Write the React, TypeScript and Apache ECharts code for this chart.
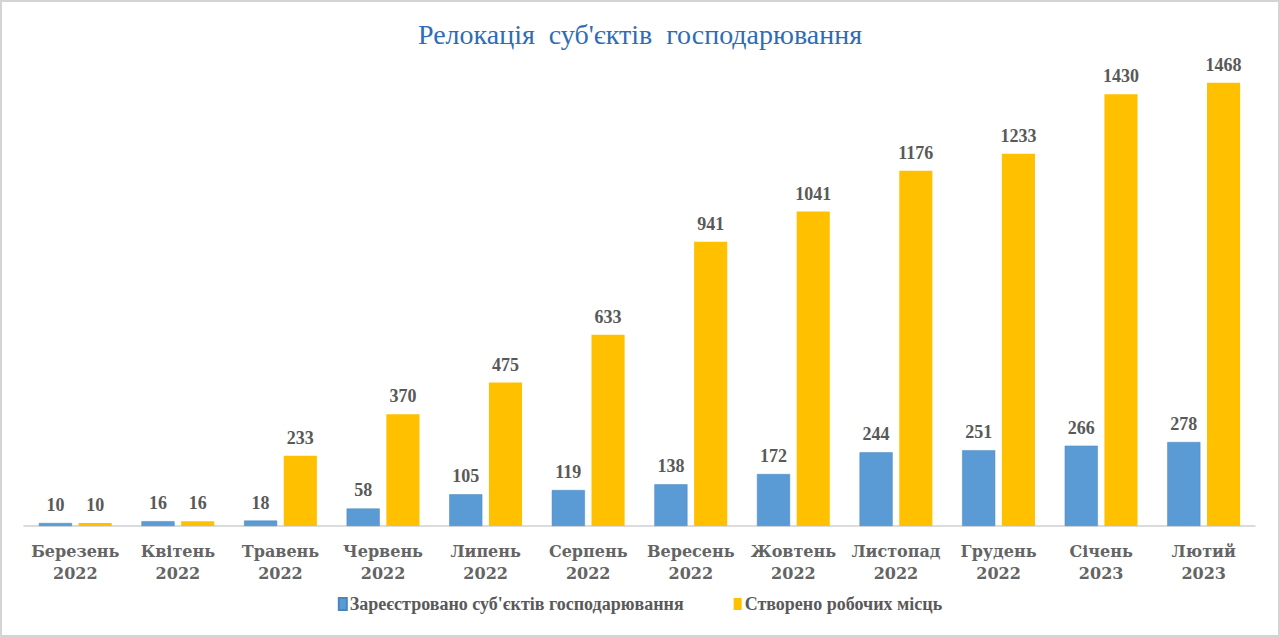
import React, { useEffect, useRef } from "react";
import * as echarts from "echarts";

const months = ["Березень", "Квітень", "Травень", "Червень", "Липень", "Серпень", "Вересень", "Жовтень", "Листопад", "Грудень", "Січень", "Лютий"];
const years = ["2022", "2022", "2022", "2022", "2022", "2022", "2022", "2022", "2022", "2022", "2023", "2023"];
const registered = [10, 16, 18, 58, 105, 119, 138, 172, 244, 251, 266, 278];
const jobs = [10, 16, 233, 370, 475, 633, 941, 1041, 1176, 1233, 1430, 1468];

const categories = months.map((m, i) => m + "\n" + years[i]);

export default function App() {
  const ref = useRef<HTMLDivElement>(null);
  useEffect(() => {
    document.body.style.margin = "0";
    const chart = echarts.init(ref.current!, null, { renderer: "svg" });
    const serif = "'Liberation Serif', 'DejaVu Serif', serif";
    const labelStyle = {
      show: true,
      position: "top" as const,
      distance: 9,
      fontFamily: serif,
      fontWeight: "bold" as const,
      fontSize: 18,
      color: "#595959",
    };
    chart.setOption({
      animation: false,
      backgroundColor: "#ffffff",
      title: {
        text: "Релокація  суб'єктів  господарювання",
        left: "center",
        top: 13,
        textStyle: { fontFamily: serif, fontSize: 28, fontWeight: "normal", color: "#2E6DB4" },
      },
      legend: {
        bottom: 17,
        left: "center",
        itemWidth: 8,
        itemHeight: 12,
        itemGap: 50,
        icon: "rect",
        textStyle: { fontFamily: serif, fontWeight: "bold", fontSize: 18, color: "#595959", padding: [0, 0, 0, -2] },
        data: ["Зареєстровано суб'єктів господарювання", "Створено робочих місць"],
      },
      grid: { left: 22, right: 23, top: 71, bottom: 109, containLabel: false },
      xAxis: {
        type: "category",
        data: categories,
        axisLine: { lineStyle: { color: "#D0D0D0", width: 1.5 } },
        axisTick: { show: false },
        axisLabel: {
          interval: 0,
          margin: 14,
          fontFamily: "'DejaVu Serif', serif",
          fontWeight: "bold",
          fontSize: 16,
          lineHeight: 22,
          color: "#646464",
        },
      },
      yAxis: {
        type: "value",
        min: 0,
        max: 1500,
        show: false,
        splitLine: { show: false },
      },
      series: [
        {
          name: "Зареєстровано суб'єктів господарювання",
          type: "bar",
          data: registered,
          barGap: "20%",
          barCategoryGap: "29%",
          itemStyle: { color: "#5B9BD5", borderColor: "#4A86BE", borderWidth: 0.5 },
          label: labelStyle,
        },
        {
          name: "Створено робочих місць",
          type: "bar",
          data: jobs,
          itemStyle: { color: "#FFC000" },
          label: labelStyle,
        },
      ],
    });
    return () => chart.dispose();
  }, []);
  return (
    <div
      ref={ref}
      style={{
        position: "fixed",
        left: 0,
        top: 0,
        width: 1280,
        height: 637,
        boxSizing: "border-box",
        border: "2px solid #D4D4D4",
      }}
    />
  );
}
